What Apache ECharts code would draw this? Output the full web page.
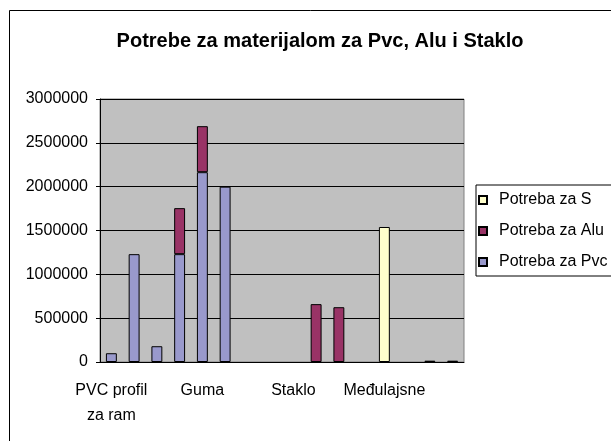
<!DOCTYPE html>
<html>
<head>
    <meta charset="utf-8" />
    <title></title>
    <script src="https://cdn.jsdelivr.net/npm/echarts@6/dist/echarts.min.js"></script>
    <style>
        html, body { margin: 0; padding: 0; background: #fff; }
        #main { width: 611px; height: 441px; }
    </style>
</head>
<body>
    <div id="main"></div>
    <script type="text/javascript">
        // kategorije (samo svaka cetvrta se vidi na osi)
        var kategorije = ['PVC profil za ram', 'PVC profil za krilo', 'PVC T profil', 'Ojačanje',
            'Guma', 'Okov', 'Vijci', 'Alu profil za ram', 'Staklo', 'Alu profil za krilo',
            'Alu T profil', 'Silikon', 'Međulajsne', 'Lajsne', 'Tiple', 'Ostalo'];
        var potrebaPvc = [100000, 1230000, 180000, 1230000, 2165000, 2000000, null, null,
            null, null, null, null, null, null, 15000, 15000];
        var potrebaAlu = [null, null, null, 525000, 525000, null, null, null,
            null, 660000, 625000, null, null, null, null, null];
        var potrebaS = [null, null, null, null, null, null, null, null,
            null, null, null, null, 1540000, null, null, null];

        var myChart = echarts.init(document.getElementById('main'));
        var ivica = { borderColor: '#000', borderWidth: 1 };
        var option = {
            backgroundColor: '#fff',
            animation: false,
            title: {
                text: 'Potrebe za materijalom za Pvc, Alu i Staklo',
                left: 315,
                textAlign: 'center',
                top: 26,
                textStyle: { fontFamily: 'Liberation Sans, Arial', fontSize: 20, fontWeight: 'bold', color: '#000' }
            },
            graphic: [{
                type: 'rect',
                shape: { x: 9.5, y: 10.5, width: 700, height: 500 },
                style: { fill: 'none', stroke: '#000', lineWidth: 1 },
                silent: true
            }],
            legend: {
                orient: 'vertical',
                left: 476,
                top: 185,
                padding: [7, 16, 6, 2],
                itemGap: 15,
                itemWidth: 8,
                itemHeight: 8,
                icon: 'rect',
                borderColor: '#000',
                borderWidth: 1,
                data: ['Potreba za S', 'Potreba za Alu', 'Potreba za Pvc'],
                textStyle: { fontFamily: 'Liberation Sans, Arial', fontSize: 16, color: '#000', padding: [0, 0, 0, 7] }
            },
            grid: {
                left: 100,
                right: 147,
                top: 99,
                bottom: 79,
                show: true,
                backgroundColor: '#c0c0c0',
                borderColor: '#808080',
                borderWidth: 1
            },
            xAxis: {
                type: 'category',
                data: kategorije,
                axisLine: { lineStyle: { color: '#000' } },
                axisTick: { interval: 0, length: 5, lineStyle: { color: '#000' } },
                axisLabel: {
                    interval: 3,
                    margin: 16,
                    lineHeight: 25,
                    color: '#000',
                    fontFamily: 'Liberation Sans, Arial',
                    fontSize: 16,
                    formatter: function (v) { return v.replace(' za ', '\nza '); }
                }
            },
            yAxis: {
                type: 'value',
                min: 0,
                max: 3000000,
                interval: 500000,
                axisLine: { show: true, lineStyle: { color: '#000' } },
                axisTick: { show: true, length: 4, lineStyle: { color: '#000' } },
                splitLine: { lineStyle: { color: '#000' } },
                axisLabel: {
                    margin: 12,
                    color: '#000',
                    fontFamily: 'Liberation Sans, Arial',
                    fontSize: 16,
                    formatter: function (v) { return String(v); }
                }
            },
            series: [
                {
                    name: 'Potreba za Pvc', type: 'bar', stack: 'uk', barWidth: '48%',
                    itemStyle: Object.assign({ color: '#9999cc' }, ivica),
                    data: potrebaPvc
                },
                {
                    name: 'Potreba za Alu', type: 'bar', stack: 'uk', barWidth: '48%',
                    itemStyle: Object.assign({ color: '#993366' }, ivica),
                    data: potrebaAlu
                },
                {
                    name: 'Potreba za S', type: 'bar', stack: 'uk', barWidth: '48%',
                    itemStyle: Object.assign({ color: '#ffffcc' }, ivica),
                    data: potrebaS
                }
            ]
        };
        myChart.setOption(option);
    </script>
</body>
</html>
